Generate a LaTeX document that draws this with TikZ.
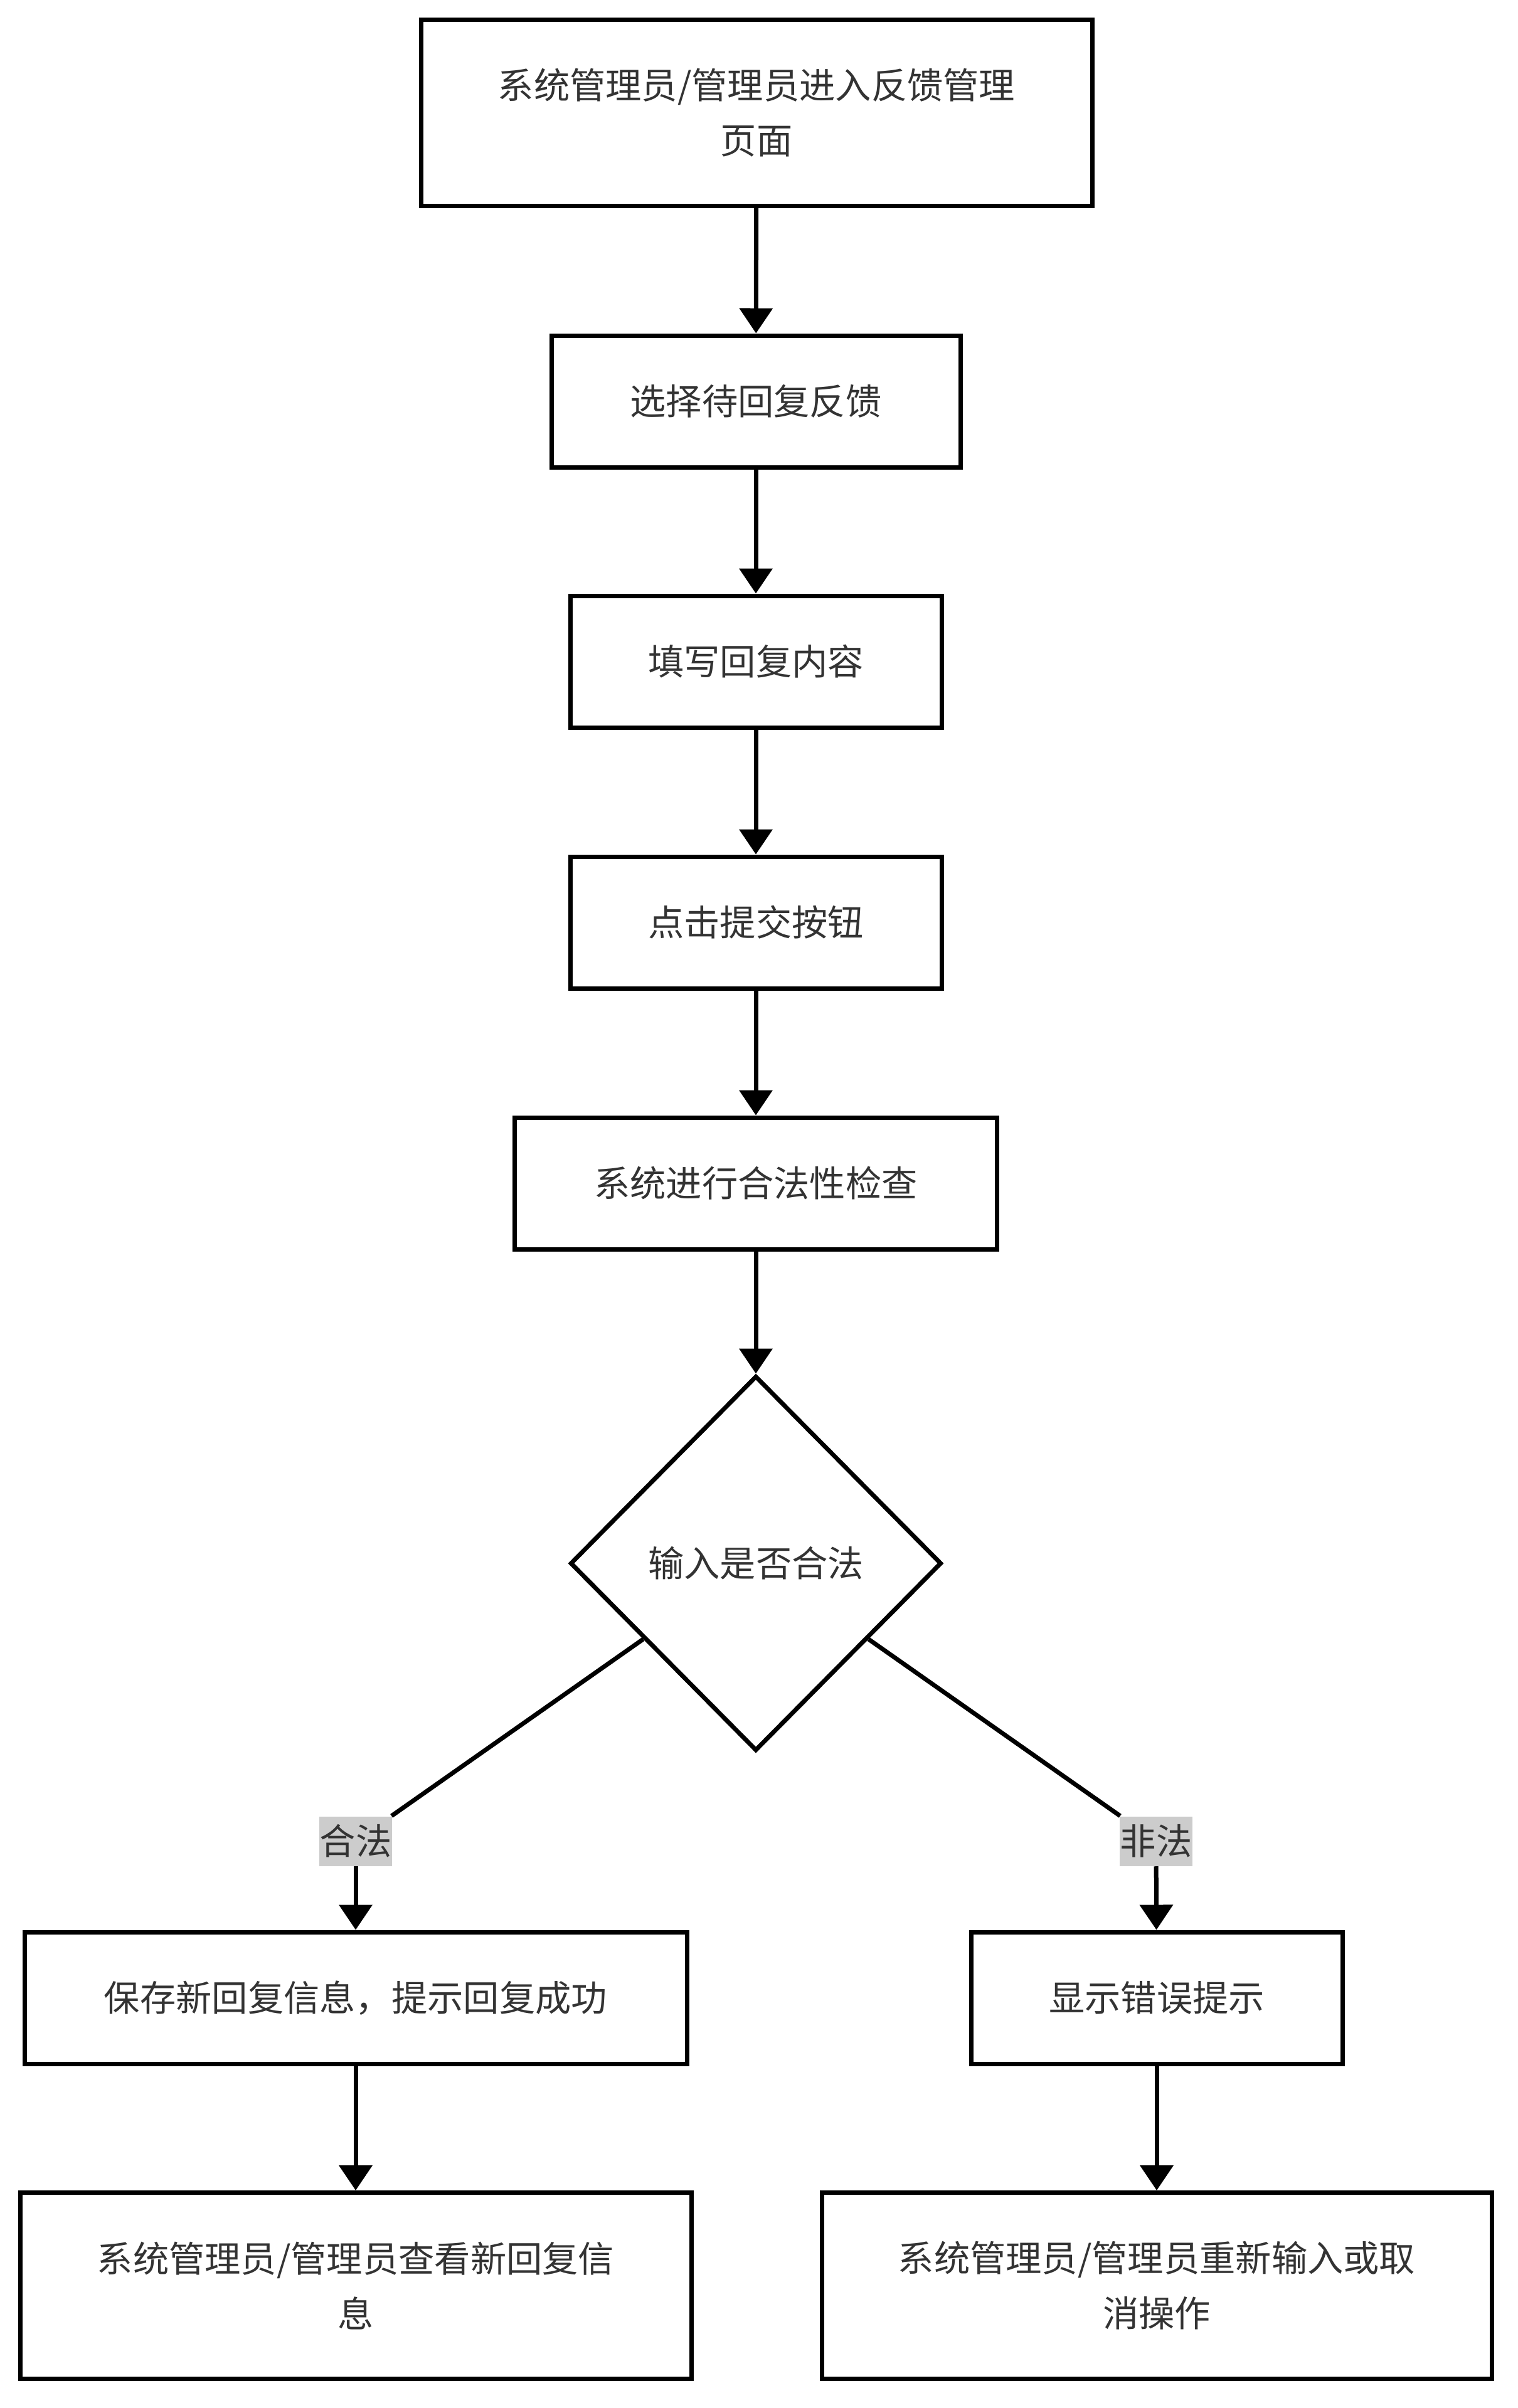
\documentclass[tikz,border=0pt]{standalone}
\usepackage{fontspec}
\setmainfont{Noto Sans CJK SC}
\usetikzlibrary{arrows.meta,shapes.geometric,calc}

\newlength{\du}
\setlength{\du}{0.1mm}

\definecolor{dialinecolor}{rgb}{0.000000, 0.000000, 0.000000}
\definecolor{diatextcolor}{rgb}{0.200000, 0.200000, 0.200000}
\definecolor{dialabelcolor}{rgb}{0.800000, 0.800000, 0.800000}

\tikzset{
  stepbox/.style={draw=dialinecolor, line width=7\du, fill=white, rectangle,
    minimum height=210\du, inner sep=0pt, align=center, text=diatextcolor,
    font=\fontsize{16.3pt}{25pt}\selectfont},
  tallbox/.style={stepbox, minimum height=297\du},
  checkbox/.style={draw=dialinecolor, line width=7\du, fill=white, diamond,
    minimum width=592\du, minimum height=598\du, inner sep=0pt, text=diatextcolor,
    font=\fontsize{16.3pt}{25pt}\selectfont},
  edgelabel/.style={fill=dialabelcolor, inner xsep=1\du, inner ysep=0pt,
    minimum height=79\du, text=diatextcolor, font=\fontsize{16.3pt}{25pt}\selectfont},
  link/.style={draw=dialinecolor, line width=7\du},
  flow/.style={link, -{Triangle[length=4mm,width=5.2mm]}}
}

\begin{document}
\begin{tikzpicture}
\pgftransformxscale{1.000000}
\pgftransformyscale{-1.000000}
\useasboundingbox (0\du,0\du) rectangle (2420\du,3840\du);
% main column
\node[tallbox, minimum width=1070\du] (enterPage) at (1206\du,180\du){系统管理员/管理员进入反馈管理\\页面};
\node[stepbox, minimum width=652\du] (pickFeedback) at (1205\du,640\du){选择待回复反馈};
\node[stepbox, minimum width=592\du] (fillReply) at (1205\du,1055\du){填写回复内容};
\node[stepbox, minimum width=592\du] (clickSubmit) at (1205\du,1471\du){点击提交按钮};
\node[stepbox, minimum width=769\du] (sysCheck) at (1205\du,1887\du){系统进行合法性检查};
\node[checkbox] (isValid) at (1205\du,2493\du){输入是否合法};
% branches
\node[edgelabel] (validLabel) at (567\du,2936\du){合法};
\node[edgelabel] (invalidLabel) at (1843\du,2936\du){非法};
\node[stepbox, minimum width=1056\du] (saveReply) at (567\du,3186\du){保存新回复信息，提示回复成功};
\node[stepbox, minimum width=592\du] (showError) at (1844\du,3186\du){显示错误提示};
\node[tallbox, minimum width=1070\du] (viewReply) at (567\du,3645\du){系统管理员/管理员查看新回复信\\息};
\node[tallbox, minimum width=1068\du] (retryInput) at (1844\du,3645\du){系统管理员/管理员重新输入或取\\消操作};
\coordinate (validOut) at ($(isValid.west)!0.4!(isValid.south)$);
\coordinate (invalidOut) at ($(isValid.east)!0.4!(isValid.south)$);
% connectors
\draw[flow] (enterPage) -- (pickFeedback);
\draw[flow] (pickFeedback) -- (fillReply);
\draw[flow] (fillReply) -- (clickSubmit);
\draw[flow] (clickSubmit) -- (sysCheck);
\draw[flow] (sysCheck) -- (isValid);
\draw[link] (validOut) -- (validLabel);
\draw[flow] (validLabel) -- (saveReply);
\draw[link] (invalidOut) -- (invalidLabel);
\draw[flow] (invalidLabel) -- (showError);
\draw[flow] (saveReply) -- (viewReply);
\draw[flow] (showError) -- (retryInput);
\end{tikzpicture}
\end{document}
